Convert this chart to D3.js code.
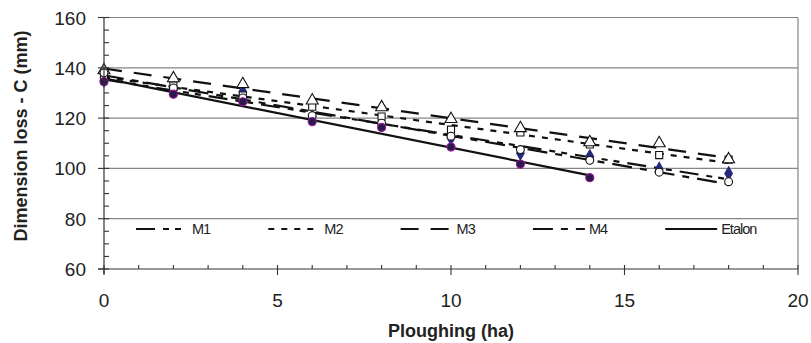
<!DOCTYPE html>
<html>
<head>
<meta charset="utf-8">
<script src="https://cdn.jsdelivr.net/npm/d3@7"></script>
<style>
  body { margin: 0; background: #fff; }
  svg { display: block; font-family: "Liberation Sans", Arial, sans-serif; }
</style>
</head>
<body>
<svg id="chart" width="811" height="343"></svg>
<script>
// ploughing (ha) at each measurement
var hectares = [0, 2, 4, 6, 8, 10, 12, 14, 16, 18];
var etalonHectares = [0, 2, 4, 6, 8, 10, 12, 14];

// dimension loss C (mm)
var m1 = [135, 131, 130.5, 120.5, 117.7, 112, 106, 104.8, 99.8, 98];
var m2 = [136.5, 133, 129, 124.5, 120.6, 115.4, 114.3, 109.5, 105.3, 103.5];
var m3 = [139, 135.8, 133.5, 127, 124.3, 119.6, 116, 110.4, 110, 103.6];
var m4 = [138, 132, 128, 121, 118, 112.8, 107.5, 103.2, 98.5, 94.7];
var etalon = [134.5, 129.5, 126.5, 118.6, 116.3, 108.5, 101.7, 96.3];

var seriesNames = ["M1", "M2", "M3", "M4", "Etalon"];
var yTicks = [60, 80, 100, 120, 140, 160];
var xTicks = [0, 5, 10, 15, 20];

var series = [
    { name: "M1", xs: hectares, ys: m1, dash: "19,8,6,6,6,8", marker: "diamond" },
    { name: "M2", xs: hectares, ys: m2, dash: "6,7", marker: "square" },
    { name: "M3", xs: hectares, ys: m3, dash: "18,12", marker: "triangle" },
    { name: "M4", xs: hectares, ys: m4, dash: "20,8,7,8", marker: "circle" },
    { name: "Etalon", xs: etalonHectares, ys: etalon, dash: null, marker: "dot" }
];

var svg = d3.select("#chart");
var x = d3.scaleLinear().domain([0, 20]).range([104, 798]);
var y = d3.scaleLinear().domain([60, 160]).range([269, 17.5]);

// grid lines
svg.append("g").selectAll("line")
    .data(yTicks.filter(function(d) { return d > 60; }))
    .enter().append("line")
    .attr("x1", x(0)).attr("x2", x(20))
    .attr("y1", function(d) { return y(d); })
    .attr("y2", function(d) { return y(d); })
    .attr("stroke", "#858585").attr("stroke-width", 1.2);

// right border
svg.append("line")
    .attr("x1", x(20)).attr("x2", x(20))
    .attr("y1", y(160)).attr("y2", y(60))
    .attr("stroke", "#858585").attr("stroke-width", 1.2);

// least squares trend for each series
function fit(xs, ys) {
    var mx = d3.mean(xs), my = d3.mean(ys);
    var sxy = d3.sum(xs, function(v, i) { return (v - mx) * (ys[i] - my); });
    var sxx = d3.sum(xs, function(v) { return (v - mx) * (v - mx); });
    var b = sxy / sxx;
    return function(v) { return my + b * (v - mx); };
}

var trend = svg.append("g");
series.forEach(function(s) {
    var f = fit(s.xs, s.ys);
    var x0 = d3.min(s.xs), x1 = d3.max(s.xs);
    trend.append("line")
        .attr("x1", x(x0)).attr("y1", y(f(x0)))
        .attr("x2", x(x1)).attr("y2", y(f(x1)))
        .attr("stroke", "#111").attr("stroke-width", 2.2)
        .attr("stroke-dasharray", s.dash);
});

// markers
var symbols = {
    diamond: d3.symbol().type(d3.symbolDiamond).size(50),
    square: d3.symbol().type(d3.symbolSquare).size(50),
    triangle: d3.symbol().type(d3.symbolTriangle).size(62),
    circle: d3.symbol().type(d3.symbolCircle).size(48),
    dot: d3.symbol().type(d3.symbolCircle).size(52)
};
var markerStyle = {
    diamond: { fill: "#24297d", stroke: "#24297d" },
    square: { fill: "#fff", stroke: "#111" },
    triangle: { fill: "#fff", stroke: "#111" },
    circle: { fill: "#fff", stroke: "#111" },
    dot: { fill: "#2a1a4a", stroke: "#9a1a9a" }
};
series.forEach(function(s) {
    svg.append("g").selectAll("path")
        .data(s.xs.map(function(v, i) { return [v, s.ys[i]]; }))
        .enter().append("path")
        .attr("d", symbols[s.marker])
        .attr("transform", function(d) { return "translate(" + x(d[0]) + "," + y(d[1]) + ")"; })
        .attr("fill", markerStyle[s.marker].fill)
        .attr("stroke", markerStyle[s.marker].stroke)
        .attr("stroke-width", 1.1);
});

// axes
var axisColor = "#333";
svg.append("line")
    .attr("x1", x(0)).attr("x2", x(0)).attr("y1", y(160)).attr("y2", y(60) + 5)
    .attr("stroke", axisColor).attr("stroke-width", 1.2);
svg.append("line")
    .attr("x1", x(0) - 6).attr("x2", x(20)).attr("y1", y(60)).attr("y2", y(60))
    .attr("stroke", axisColor).attr("stroke-width", 1.2);

// y ticks
svg.append("g").selectAll("line")
    .data(d3.range(60, 161, 5))
    .enter().append("line")
    .attr("x1", function(d) { return d % 20 === 0 ? x(0) - 6 : x(0); })
    .attr("x2", x(0) + 5)
    .attr("y1", function(d) { return y(d); })
    .attr("y2", function(d) { return y(d); })
    .attr("stroke", axisColor).attr("stroke-width", 1.1);

svg.append("g").selectAll("text")
    .data(yTicks)
    .enter().append("text")
    .attr("x", x(0) - 18)
    .attr("y", function(d) { return y(d) + 7; })
    .attr("text-anchor", "end")
    .attr("font-size", 19)
    .attr("fill", "#222")
    .text(function(d) { return d; });

// x ticks
svg.append("g").selectAll("line")
    .data(d3.range(0, 21, 1))
    .enter().append("line")
    .attr("x1", function(d) { return x(d); })
    .attr("x2", function(d) { return x(d); })
    .attr("y1", y(60) - 4)
    .attr("y2", function(d) { return d % 5 === 0 ? y(60) + 6 : y(60); })
    .attr("stroke", axisColor).attr("stroke-width", 1.1);

svg.append("g").selectAll("text")
    .data(xTicks)
    .enter().append("text")
    .attr("x", function(d) { return x(d); })
    .attr("y", 307)
    .attr("text-anchor", "middle")
    .attr("font-size", 19)
    .attr("fill", "#222")
    .text(function(d) { return d; });

// axis titles
svg.append("text")
    .attr("x", 451).attr("y", 337)
    .attr("text-anchor", "middle")
    .attr("font-size", 18).attr("font-weight", "bold")
    .attr("fill", "#222")
    .text("Ploughing (ha)");

svg.append("text")
    .attr("transform", "translate(27,136) rotate(-90)")
    .attr("text-anchor", "middle")
    .attr("font-size", 18).attr("font-weight", "bold")
    .attr("fill", "#222")
    .text("Dimension loss - C (mm)");

// legend
var legend = svg.append("g").selectAll("g")
    .data(series)
    .enter().append("g")
    .attr("transform", function(d, i) { return "translate(" + (136 + i * 132.3) + ",229)"; });
legend.append("line")
    .attr("x1", 0).attr("x2", 52)
    .attr("stroke", "#111").attr("stroke-width", 2.2)
    .attr("stroke-dasharray", function(d) { return d.dash; });
legend.append("text")
    .attr("x", 56).attr("y", 5)
    .attr("font-size", 14.5)
    .attr("letter-spacing", -1)
    .attr("fill", "#222")
    .text(function(d) { return d.name; });
</script>
</body>
</html>
